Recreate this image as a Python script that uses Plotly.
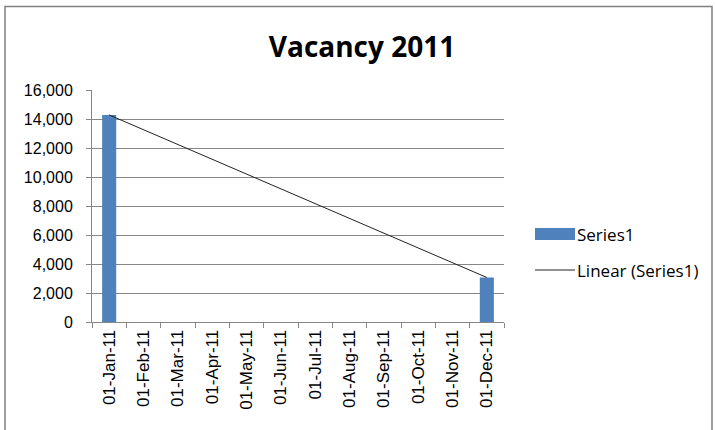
import numpy as np
import plotly.graph_objects as go

categories = ["01-Jan-11", "01-Feb-11", "01-Mar-11", "01-Apr-11", "01-May-11", "01-Jun-11",
              "01-Jul-11", "01-Aug-11", "01-Sep-11", "01-Oct-11", "01-Nov-11", "01-Dec-11"]
vacancy = [14280, None, None, None, None, None, None, None, None, None, None, 3070]
y_ticks = [0, 2000, 4000, 6000, 8000, 10000, 12000, 14000, 16000]
legend_names = ["Series1", "Linear (Series1)"]

# linear trendline fitted to the non-blank points
idx = np.array([i for i, v in enumerate(vacancy) if v is not None], dtype=float)
vals = np.array([v for v in vacancy if v is not None], dtype=float)
slope, intercept = np.polyfit(idx, vals, 1)
trend = [slope * i + intercept for i in range(len(categories))]

BAR_COLOR = "#4F81BD"
LINE_COLOR = "#222222"
W, H = 715, 430
L, R, T, B = 92, 504, 90, 322
pw, ph = R - L, B - T
def px(x):
    return (x - L) / pw
def py(y):
    return (B - y) / ph

fig = go.Figure()
fig.add_trace(go.Bar(x=categories, y=vacancy, name=legend_names[0],
                     marker=dict(color=BAR_COLOR, line=dict(width=0)), showlegend=False))
fig.add_trace(go.Scatter(x=categories, y=trend, mode="lines", name=legend_names[1],
                         line=dict(color=LINE_COLOR, width=1), showlegend=False))

leg_font = dict(family="Open Sans, Lato, sans-serif", size=17, color="black")
shapes = [
    dict(type="rect", xref="paper", yref="paper",
         x0=px(5), x1=px(712), y0=py(470), y1=py(6.5),
         line=dict(color="#808080", width=1.5), fillcolor="rgba(0,0,0,0)", layer="below"),
    dict(type="rect", xref="paper", yref="paper",
         x0=px(535), x1=px(575), y0=py(240), y1=py(228),
         line=dict(width=0), fillcolor=BAR_COLOR),
    dict(type="line", xref="paper", yref="paper",
         x0=px(535), x1=px(575), y0=py(270), y1=py(270),
         line=dict(color=LINE_COLOR, width=1)),
]
annotations = [
    dict(text=legend_names[0], xref="paper", yref="paper", x=px(575), y=py(234),
         xanchor="left", yanchor="middle", showarrow=False, font=leg_font),
    dict(text=legend_names[1], xref="paper", yref="paper", x=px(575), y=py(270),
         xanchor="left", yanchor="middle", showarrow=False, font=leg_font),
]

fig.update_layout(
    width=W, height=H,
    margin=dict(l=L, r=W - R, t=T, b=H - B),
    paper_bgcolor="white", plot_bgcolor="white",
    bargap=0.59,
    showlegend=False,
    title=dict(text="<b>Vacancy 2011</b>", x=362 / W, xanchor="center", y=1 - 47 / H, yanchor="middle",
               font=dict(family="Open Sans, Lato, sans-serif", size=28, color="black")),
    xaxis=dict(type="category", tickangle=-90, tickson="boundaries", ticks="outside", ticklen=5,
               tickcolor="#868686", showline=True, linecolor="#868686", linewidth=1,
               showgrid=False, ticklabelstandoff=0,
               tickfont=dict(family="Liberation Sans, Arial", size=17, color="black")),
    yaxis=dict(range=[0, 16000], tickvals=y_ticks, tickformat=",d", ticks="outside", ticklen=5,
               tickcolor="#868686", showline=True, linecolor="#868686", linewidth=1,
               gridcolor="#868686", gridwidth=1, zeroline=False, ticklabelstandoff=10,
               tickfont=dict(family="Liberation Sans, Arial", size=16, color="black")),
    shapes=shapes,
    annotations=annotations,
)
fig.write_html("out.html")
